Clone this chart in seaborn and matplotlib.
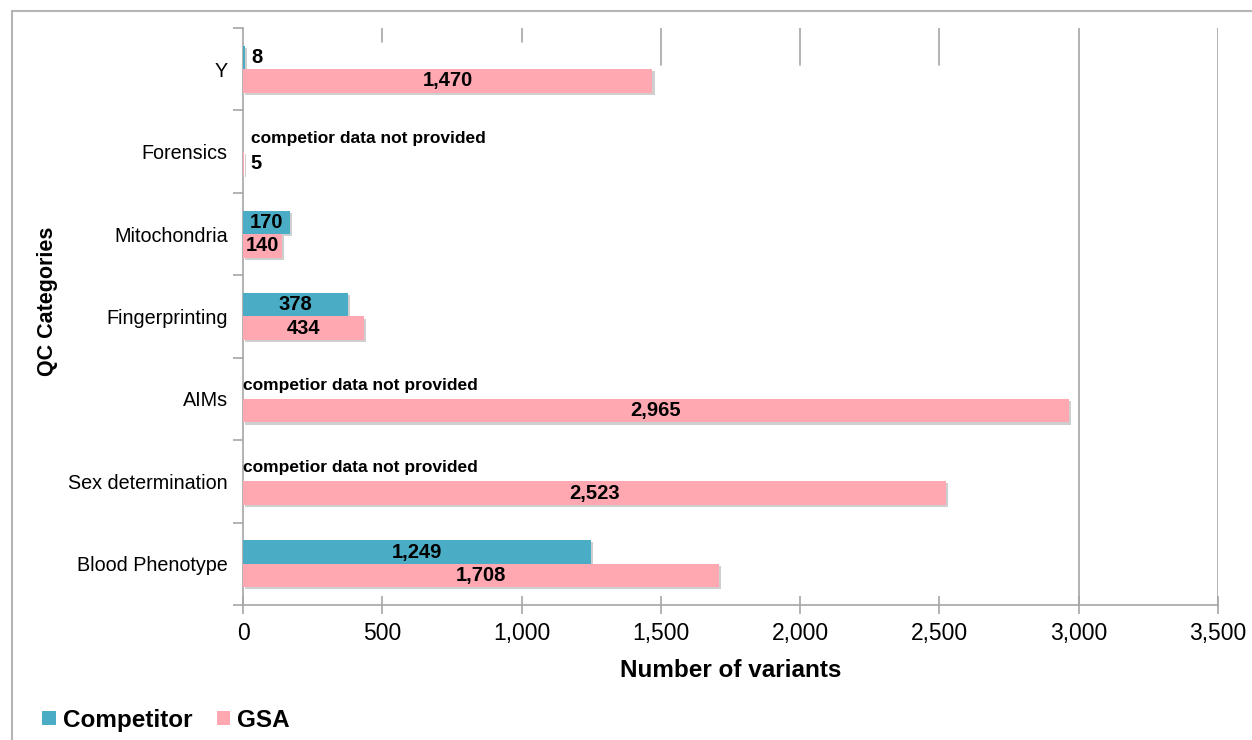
import matplotlib
matplotlib.use("Agg")
import matplotlib.pyplot as plt
import matplotlib.patheffects as pe
from matplotlib.patches import Patch, Rectangle
import numpy as np
import pandas as pd
import seaborn as sns

# --- data ---
categories = ["Y", "Forensics", "Mitochondria", "Fingerprinting", "AIMs",
              "Sex determination", "Blood Phenotype"]
competitor = [8, np.nan, 170, 378, np.nan, np.nan, 1249]
gsa = [1470, 5, 140, 434, 2965, 2523, 1708]
series = ["Competitor", "GSA"]
x_ticks = [0, 500, 1000, 1500, 2000, 2500, 3000, 3500]
missing_note = "competior data not provided"

colors = {"Competitor": "#4BACC6", "GSA": "#FFA8B2"}
grey = "#a6a6a6"

sns.set_theme(style="white")
plt.rcParams["font.family"] = ["Liberation Sans", "DejaVu Sans"]
plt.rcParams.update({"text.color": "black", "axes.labelcolor": "black",
                     "xtick.color": "black", "ytick.color": "black"})

df = pd.DataFrame({
    "category": categories * 2,
    "series": ["Competitor"] * len(categories) + ["GSA"] * len(categories),
    "value": competitor + gsa,
})

fig = plt.figure(figsize=(12.52, 7.40), dpi=100)
ax = fig.add_axes([0.1941, 0.1824, 0.7787, 0.7798])

sns.barplot(data=df, y="category", x="value", hue="series", order=categories,
            hue_order=series, palette=colors, orient="h", width=0.57,
            errorbar=None, dodge=True, saturation=1, ax=ax, legend=False,
            zorder=3)

shadow = [pe.withSimplePatchShadow(offset=(1.5, -1.5), shadow_rgbFace="#777777",
                                   alpha=0.35)]
for p in ax.patches:
    p.set_path_effects(shadow)
    p.set_edgecolor("none")

ax.set_xlim(0, 3500)
ax.set_ylim(len(categories) - 0.5, -0.5)

# value labels
half = 0.57 / 4
for i, cat in enumerate(categories):
    for name, vals, dy in (("Competitor", competitor, -half), ("GSA", gsa, half)):
        v = vals[i]
        y = i + dy
        if np.isnan(v):
            x0 = 30 if cat == "Forensics" else 0
            ax.text(x0, y - 0.02, missing_note, ha="left", va="center",
                    fontsize=12.5, fontweight="bold", color="black", zorder=5)
        elif v < 100:
            ax.text(v + 22, y, f"{int(v):,}", ha="left", va="center",
                    fontsize=14.5, fontweight="bold", color="black", zorder=5)
        else:
            ax.text(v / 2, y, f"{int(v):,}", ha="center", va="center",
                    fontsize=14.5, fontweight="bold", color="black", zorder=5)

# gridlines (partly hidden in the original)
for xv in x_ticks[1:]:
    if xv <= 1000:
        ymin = 0.976
    elif xv <= 2500:
        ymin = 0.936
    else:
        ymin = 0.0
    ax.axvline(xv, ymin=ymin, ymax=1, color=grey, lw=1.2, zorder=1)

ax.set_xticks(x_ticks)
ax.set_xticklabels([f"{t:,}" for t in x_ticks], fontsize=16.5)
ax.tick_params(axis="x", direction="inout", length=13, width=1.2, color=grey,
               labelcolor="black", pad=6, bottom=True)
ax.set_yticks(range(len(categories)))
ax.set_yticklabels(categories, fontsize=14.2)
ax.tick_params(axis="y", length=0, pad=11, labelcolor="black")
ax.set_yticks(np.arange(-0.5, len(categories) + 0.5, 1), minor=True)
ax.tick_params(axis="y", which="minor", direction="out", length=7, width=1.2,
               color=grey, left=True)

for s in ("top", "right"):
    ax.spines[s].set_visible(False)
for s in ("left", "bottom"):
    ax.spines[s].set_color(grey)
    ax.spines[s].set_linewidth(1.2)

ax.set_xlabel("Number of variants", fontsize=17.5, fontweight="bold", labelpad=10)
ax.set_ylabel("QC Categories", fontsize=15.5, fontweight="bold")
ax.yaxis.set_label_coords(-0.19, 0.527)

handles = [Patch(facecolor=colors[s], edgecolor="none", label=s) for s in series]
fig.legend(handles=handles, loc="center left", bbox_to_anchor=(0.026, 0.027),
           ncol=2, frameon=False, prop={"size": 17.5, "weight": "bold"},
           handlelength=0.55, handleheight=0.55, handletextpad=0.3,
           columnspacing=1.0, borderaxespad=0)

# outer chart border
fig.patches.append(Rectangle((12 / 1252, -0.05), 1.1, 1.05 - 11 / 740,
                             transform=fig.transFigure, fill=False,
                             edgecolor="#b5b5b5", lw=1.5))

fig.savefig("out.png", dpi=100)
